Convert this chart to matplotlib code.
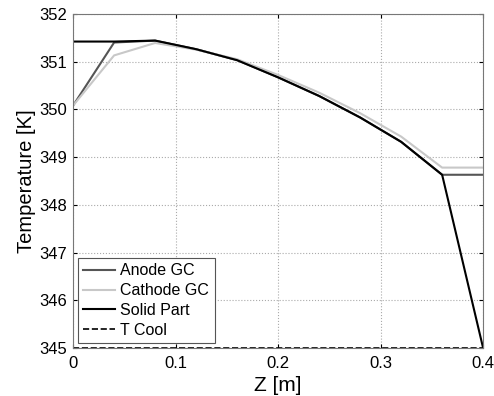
import matplotlib.pyplot as plt
import numpy as np

plt.rcParams['font.family'] = ['Liberation Sans', 'DejaVu Sans']

# Data
z = [0, 0.04, 0.08, 0.12, 0.16, 0.20, 0.24, 0.28, 0.32, 0.36, 0.40]
anode = [350.08, 351.40, 351.44, 351.26, 351.03, 350.67, 350.28, 349.83, 349.32, 348.63, 348.63]
cathode = [350.08, 351.13, 351.39, 351.25, 351.05, 350.72, 350.35, 349.92, 349.43, 348.78, 348.78]
solid = [351.42, 351.42, 351.44, 351.26, 351.03, 350.67, 350.28, 349.83, 349.32, 348.63, 345.0]
tcool = [345.0] * len(z)

fig = plt.figure(figsize=(4.94, 3.96), dpi=100)
ax = fig.add_axes([0.148, 0.121, 0.830, 0.844])

ax.plot(z, anode, color='#555555', lw=1.5, label='Anode GC')
ax.plot(z, cathode, color='#c8c8c8', lw=1.5, label='Cathode GC')
ax.plot(z, solid, color='black', lw=1.5, label='Solid Part')
ax.plot(z, tcool, 'k--', lw=1.2, label='T Cool')

ax.set_xlim(0, 0.4)
ax.set_ylim(345, 352)
ax.set_xticks([0, 0.1, 0.2, 0.3, 0.4])
ax.set_xticklabels(['0', '0.1', '0.2', '0.3', '0.4'])
ax.set_yticks(np.arange(345, 353, 1))
ax.tick_params(direction='in', top=True, right=True, labelsize=12, length=3)
ax.tick_params(axis='x', pad=6)
ax.tick_params(axis='y', pad=4)
ax.grid(True, linestyle=':', color='#aaaaaa', lw=0.8)
for s in ax.spines.values():
    s.set_color('#777777')

ax.set_xlabel('Z [m]', fontsize=15, labelpad=3)
ax.set_ylabel('Temperature [K]', fontsize=14.5, labelpad=3)

leg = ax.legend(loc='lower left', fontsize=11.5, handlelength=2.0, handletextpad=0.3,
                labelspacing=0.3, borderpad=0.35, fancybox=False, framealpha=1,
                edgecolor='#555555', borderaxespad=0.3)
leg.get_frame().set_linewidth(0.8)

fig.savefig('out.png', dpi=100)
